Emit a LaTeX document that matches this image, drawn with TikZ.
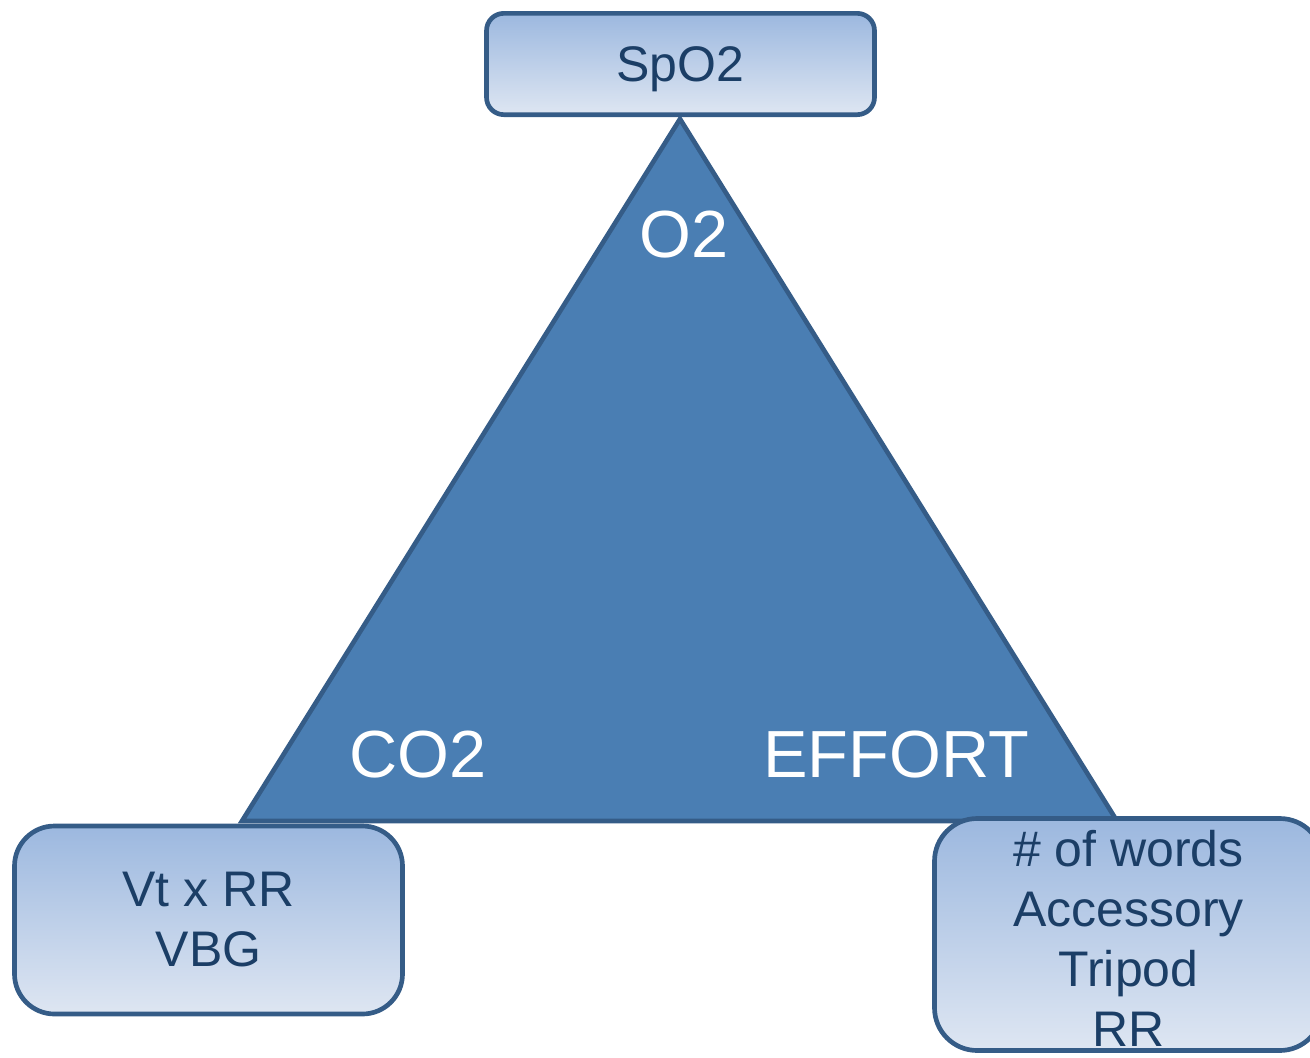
\documentclass[tikz,border=0pt]{standalone}
\usepackage{fontspec}
\setmainfont{Liberation Sans}

\definecolor{triFill}{HTML}{4A7EB3}
\definecolor{edgeBlue}{HTML}{355C87}
\definecolor{boxTop}{HTML}{9CB8DF}
\definecolor{boxBottom}{HTML}{DEE6F2}
\definecolor{boxText}{HTML}{1B3E66}

\tikzset{
    infobox/.style={draw=edgeBlue, line width=3.5pt, top color=boxTop,
        bottom color=boxBottom, text=boxText, align=center, inner sep=0pt,
        font=\fontsize{37.5}{45}\selectfont},
    cornerlabel/.style={text=white, anchor=base, inner sep=0pt,
        font=\fontsize{50}{60}\selectfont}
}

\begin{document}
\begin{tikzpicture}[x=0.75pt, y=-0.75pt]
        \useasboundingbox (0,0) rectangle (1310,1057);

        % the triangle sits behind the three boxes
        \coordinate (apex) at (680,119);
        \coordinate (baseleft) at (242,821);
        \coordinate (baseright) at (1117,821);
        \draw [fill=triFill, draw=edgeBlue, line width=3.5pt, line join=miter]
            (apex) -- (baseright) -- (baseleft) -- cycle;

        \node[cornerlabel] (o2) at (684,257) {O2};
        \node[cornerlabel] (co2) at (418,777) {CO2};
        \node[cornerlabel] (effort) at (896,777) {EFFORT};

        \node[infobox, rounded corners=13pt, minimum width=291pt,
            minimum height=76pt, text depth=0pt] (spo2) at (680.5,64) {SpO2};
        \node[infobox, rounded corners=30pt, minimum width=291pt,
            minimum height=141pt] (ventbox) at (208.5,920)
            {Vt x RR\\VBG};
        % list sits a little low in its box
        \node[infobox, rounded corners=32pt, minimum width=291pt,
            minimum height=174pt] (effortbox) at (1128.5,934.5)
            {\raisebox{-3pt}[\height][\depth]{\parbox{280pt}{\centering
                \# of words\\Accessory\\Tripod\\RR}}};
    
    \end{tikzpicture}
\end{document}
